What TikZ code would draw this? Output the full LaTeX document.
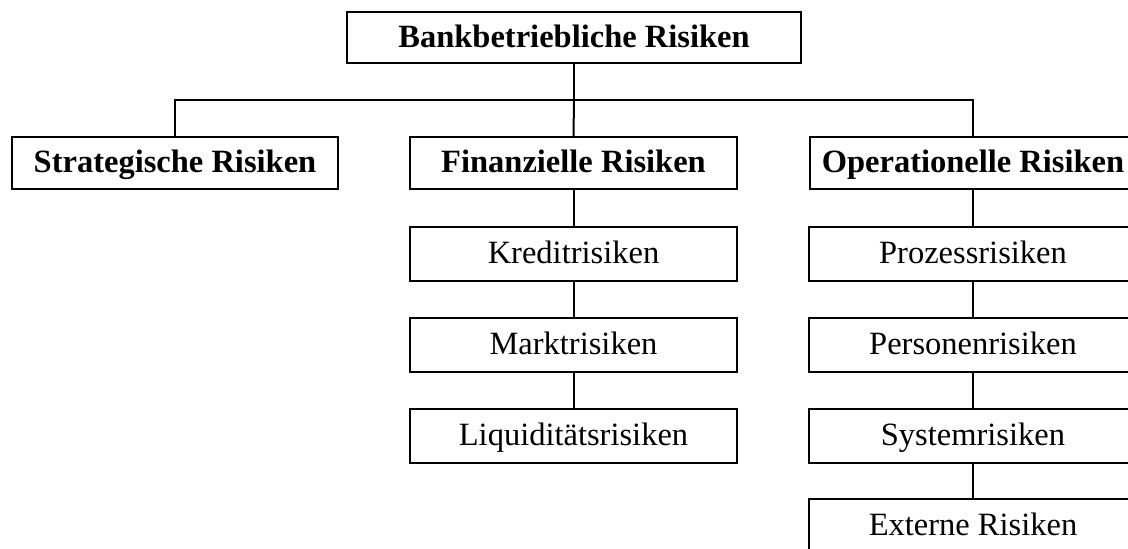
\documentclass[tikz,border=0pt]{standalone}
\usepackage{fontspec}
\setmainfont{Liberation Serif}
\begin{document}
\begin{tikzpicture}[x=1pt,y=-1pt,
  box/.style={draw, line width=2pt, inner sep=0pt, text height=22pt, text depth=3pt, minimum width=327pt, minimum height=54pt, font=\fontsize{32.5}{36}\selectfont},
  hbox/.style={box, minimum height=52pt, font=\fontsize{32.5}{36}\selectfont\bfseries},
  link/.style={line width=2pt}]
\clip (0,0) rectangle (1128,549);
\fill[white] (0,0) rectangle (1128,549);
\node[hbox, minimum width=454pt, minimum height=51pt] (top) at (574,37.5) {Bankbetriebliche Risiken};
\node[hbox, minimum width=326pt] (strat) at (175,163) {Strategische Risiken};
\node[hbox] (fin) at (573.5,163) {Finanzielle Risiken};
\node[hbox, minimum width=326pt] (oper) at (973,163) {Operationelle Risiken};
\node[box] (kred) at (573.5,254) {Kreditrisiken};
\node[box] (markt) at (573.5,344.5) {Marktrisiken};
\node[box] (liq) at (573.5,435.5) {Liquiditätsrisiken};
\node[box, minimum width=328pt] (proz) at (973,254) {Prozessrisiken};
\node[box, minimum width=328pt] (pers) at (973,344.5) {Personenrisiken};
\node[box, minimum width=328pt] (sys) at (973,435.5) {Systemrisiken};
\node[box, minimum width=328pt] (ext) at (973,526) {Externe Risiken};
\coordinate (hub) at (574,100);
\draw[link] (top.south) -- (hub);
\draw[link] (strat.north) |- (hub) -| (oper.north);
\draw[link] (hub) -- (fin.north);
\draw[link] (fin) -- (kred) (kred) -- (markt) (markt) -- (liq);
\draw[link] (oper) -- (proz) (proz) -- (pers) (pers) -- (sys) (sys) -- (ext);
\end{tikzpicture}
\end{document}
